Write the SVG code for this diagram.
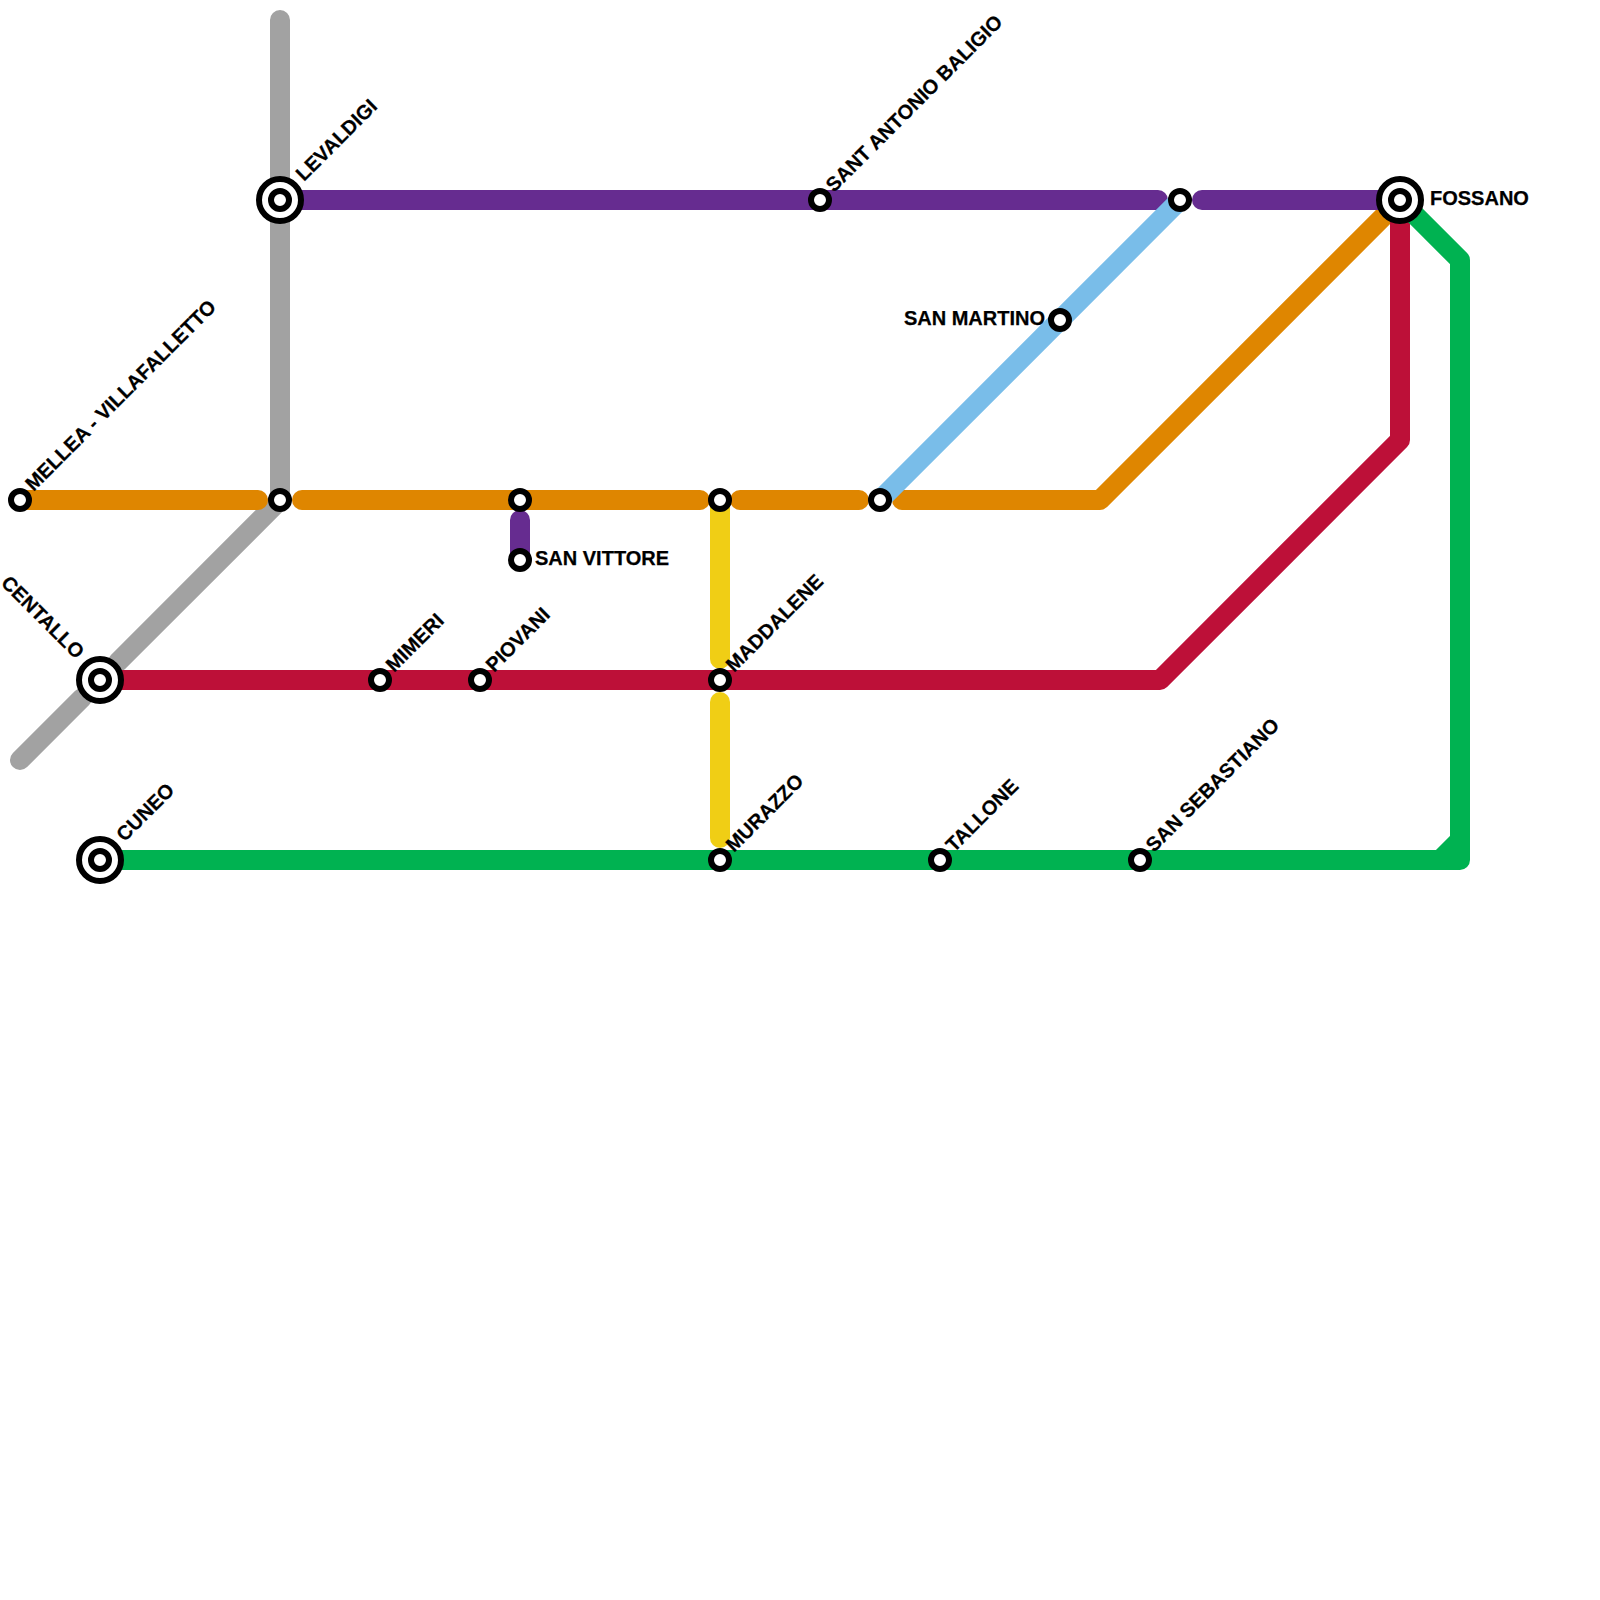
<svg xmlns="http://www.w3.org/2000/svg" width="1600" height="1600" viewBox="0 0 1600 1600">
<style>
.l{fill:none;stroke-width:20;stroke-linecap:round;stroke-linejoin:round}
.s{fill:#fff;stroke:#000;stroke-width:6}
text{font-family:"Liberation Sans",Arial,sans-serif;font-weight:700;font-size:20px;fill:#000;stroke:#000;stroke-width:.25}
.e{text-anchor:end}
</style>
<rect width="1600" height="1600" fill="#fff"/>
<g id="connectors">
<path class="l" stroke="#A2A2A2" d="M280 20V500L118 662"/>
<path class="l" stroke="#A2A2A2" d="M20 760L82 698"/>
<path class="l" stroke="#DF8600" d="M20 500H258"/>
<path class="l" stroke="#DF8600" d="M302 500H700"/>
<path class="l" stroke="#DF8600" d="M740 500H859"/>
<path class="l" stroke="#DF8600" d="M902 500H1100L1400 200"/>
<path class="l" stroke="#BD1038" d="M100 680H1160L1400 440V200"/>
<path class="l" stroke="#662C90" d="M280 200H1158"/>
<path class="l" stroke="#662C90" d="M1202 200H1400"/>
<path class="l" stroke="#662C90" d="M520 520V560"/>
<path class="l" stroke="#F0CE15" d="M720 500V659"/>
<path class="l" stroke="#F0CE15" d="M720 702V838"/>
<path class="l" stroke="#79BDE9" d="M1180 200L880 500"/>
<path class="l" stroke="#00B251" d="M100 860H1460V260L1400 200"/>
<path class="l" stroke="#00B251" style="stroke-linecap:butt" d="M1440 860L1460 840"/>
</g>
<g id="levaldigi"><circle class="s" cx="280" cy="200" r="21"/><circle class="s" cx="280" cy="200" r="9"/><text transform="translate(304 182) rotate(-45)">LEVALDIGI</text></g>
<g id="centallo"><circle class="s" cx="100" cy="680" r="21"/><circle class="s" cx="100" cy="680" r="9"/><text class="e" transform="translate(76 660) rotate(45)">CENTALLO</text></g>
<g id="cuneo"><circle class="s" cx="100" cy="860" r="21"/><circle class="s" cx="100" cy="860" r="9"/><text transform="translate(124.5 842.5) rotate(-45)">CUNEO</text></g>
<g id="fossano"><circle class="s" cx="1400" cy="200" r="21"/><circle class="s" cx="1400" cy="200" r="9"/><text x="1430" y="204.5">FOSSANO</text></g>
<g id="mellea"><circle class="s" cx="20" cy="500" r="9"/><text transform="translate(33.5 492) rotate(-45)">MELLEA - VILLAFALLETTO</text></g>
<g id="junction-280"><circle class="s" cx="280" cy="500" r="9"/></g>
<g id="junction-520"><circle class="s" cx="520" cy="500" r="9"/></g>
<g id="san-vittore"><circle class="s" cx="520" cy="560" r="9"/><text x="535" y="564.5">SAN VITTORE</text></g>
<g id="junction-720"><circle class="s" cx="720" cy="500" r="9"/></g>
<g id="junction-880"><circle class="s" cx="880" cy="500" r="9"/></g>
<g id="junction-1180"><circle class="s" cx="1180" cy="200" r="9"/></g>
<g id="mimeri"><circle class="s" cx="380" cy="680" r="9"/><text transform="translate(394 673) rotate(-45)">MIMERI</text></g>
<g id="piovani"><circle class="s" cx="480" cy="680" r="9"/><text transform="translate(494 673) rotate(-45)">PIOVANI</text></g>
<g id="maddalene"><circle class="s" cx="720" cy="680" r="9"/><text transform="translate(734 673) rotate(-45)">MADDALENE</text></g>
<g id="murazzo"><circle class="s" cx="720" cy="860" r="9"/><text transform="translate(734 853) rotate(-45)">MURAZZO</text></g>
<g id="tallone"><circle class="s" cx="940" cy="860" r="9"/><text transform="translate(954 853) rotate(-45)">TALLONE</text></g>
<g id="san-sebastiano"><circle class="s" cx="1140" cy="860" r="9"/><text transform="translate(1154 853) rotate(-45)">SAN SEBASTIANO</text></g>
<g id="sant-antonio"><circle class="s" cx="820" cy="200" r="9"/><text transform="translate(834 193) rotate(-45)">SANT ANTONIO BALIGIO</text></g>
<g id="san-martino"><circle class="s" cx="1060" cy="320" r="9"/><text class="e" x="1045" y="324.5">SAN MARTINO</text></g>
</svg>
